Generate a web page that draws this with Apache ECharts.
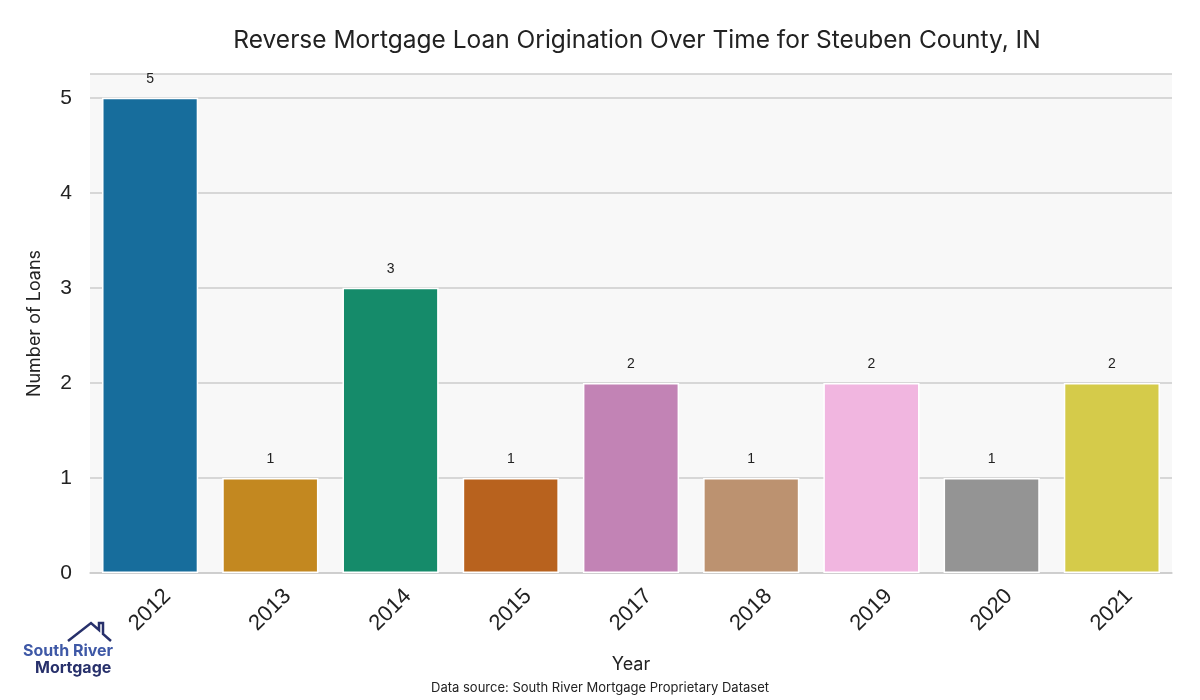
<!DOCTYPE html>
<html><head><meta charset="utf-8">
<script src="https://cdn.jsdelivr.net/npm/echarts@6/dist/echarts.min.js"></script>
<style>html,body{margin:0;padding:0;background:#fff}#c{width:1200px;height:700px}</style>
</head><body><div id="c"></div>
<script>
const years = ['2012','2013','2014','2015','2017','2018','2019','2020','2021'];
const loans = [5,1,3,1,2,1,2,1,2];
const barColors = ['#176d9c','#c38820','#158b6a','#b8621e','#c283b5','#bc9270','#f1b6e0','#949494','#d5cb4a'];
const yTicks = [0,1,2,3,4,5];
const titleText = 'Reverse Mortgage Loan Origination Over Time for Steuben County, IN';
const sourceText = 'Data source: South River Mortgage Proprietary Dataset';

const chart = echarts.init(document.getElementById('c'), null, {renderer:'canvas'});
const gridL = 90, gridR = 28, gridT = 74, gridB = 127;
chart.setOption({
  animation:false,
  backgroundColor:'#ffffff',
  title:{text:titleText,left:632,top:23,textAlign:'center',
    textStyle:{fontFamily:'Inter',fontSize:24.5,fontWeight:'normal',color:'#222'}},
  grid:{left:gridL,right:gridR,top:gridT,bottom:gridB,show:true,backgroundColor:'#f8f8f8',borderWidth:0},
  xAxis:{type:'category',data:years,
    name:'Year',nameLocation:'middle',nameGap:83,
    nameTextStyle:{fontFamily:'Inter',fontSize:18,color:'#222'},
    axisLine:{show:true,lineStyle:{color:'#cccccc',width:1.5}},
    axisTick:{show:false},
    axisLabel:{rotate:45,align:'center',verticalAlign:'middle',margin:37,
      fontFamily:'Liberation Sans',fontSize:22,color:'#222'}},
  yAxis:{type:'value',min:0,max:5.25,interval:1,
    name:'Number of Loans',nameLocation:'middle',nameGap:46,
    nameTextStyle:{fontFamily:'Inter',fontSize:18,color:'#222'},
    axisLine:{show:false},axisTick:{show:false},
    axisLabel:{margin:18,fontFamily:'Liberation Sans',fontSize:21,color:'#222',
      formatter:v=>yTicks.includes(v)?String(v):''},
    splitLine:{show:true,lineStyle:{color:'#cccccc',width:1.5}}},
  series:[{type:'bar',barWidth:'80%',
    data:loans.map((v,i)=>({value:v,itemStyle:{color:barColors[i]}})),
    itemStyle:{borderColor:'#ffffff',borderWidth:1.5},
    label:{show:true,position:'top',distance:12,fontFamily:'Liberation Sans',fontSize:14,color:'#222'}}],
  graphic:[
    {type:'text',left:'center',top:682,style:{text:sourceText,font:'13px Inter',fill:'#222'}},
    {type:'polyline',shape:{points:[[68,641],[91,623],[99,630],[99,623],[103,623],[103,634],[111,641]]},
      style:{stroke:'#27306b',lineWidth:2.5,fill:null}},
    {type:'text',left:23,top:643,style:{text:'South River',font:'bold 16px Inter',fill:'#3e58a6'}},
    {type:'text',left:35,top:660,style:{text:'Mortgage',font:'bold 16px Inter',fill:'#27306b'}}
  ]
});
</script></body></html>
